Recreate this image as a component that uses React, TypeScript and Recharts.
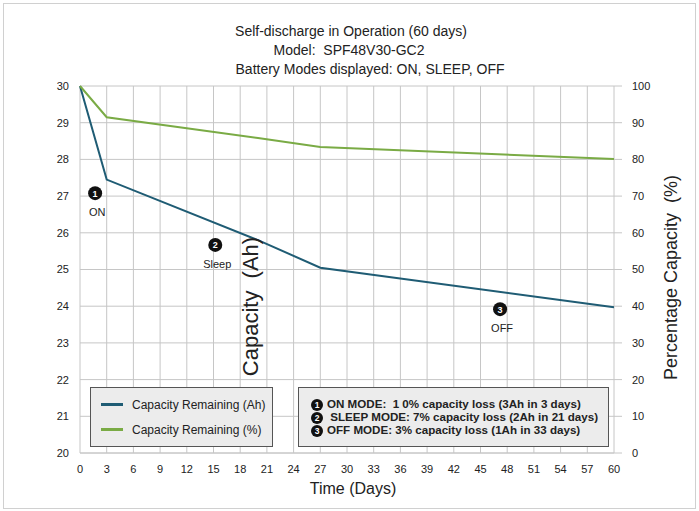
import React from 'react';
import {
  LineChart,
  Line,
  XAxis,
  YAxis,
  CartesianGrid,
  Legend,
  ReferenceDot,
} from 'recharts';

// sampled days and the two readings (Ah on the left axis, % on the right)
const days = [0, 3, 20, 27, 60];
const capacityAh = [30, 27.45, 25.8, 25.05, 23.97];
const capacityPct = [100, 91.5, 85.8, 83.4, 80.1];

const dayTicks = [0, 3, 6, 9, 12, 15, 18, 21, 24, 27, 30, 33, 36, 39, 42, 45, 48, 51, 54, 57, 60];
const ahTicks = [20, 21, 22, 23, 24, 25, 26, 27, 28, 29, 30];
const pctTicks = [0, 10, 20, 30, 40, 50, 60, 70, 80, 90, 100];

const titleLines = [
  'Self-discharge in Operation (60 days)',
  'Model:  SPF48V30-GC2',
  'Battery Modes displayed: ON, SLEEP, OFF',
];

// numbered mode markers, placed in data coordinates
const markerNums = ['1', '2', '3'];
const markerLabels = ['ON', 'Sleep', 'OFF'];
const markerDays = [1.7, 15.2, 47.2];
const markerAh = [27.08, 25.67, 23.92];

const modeNotes = [
  'ON MODE:  1 0% capacity loss (3Ah in 3 days)',
  ' SLEEP MODE: 7% capacity loss (2Ah in 21 days)',
  'OFF MODE: 3% capacity loss (1Ah in 33 days)',
];

const seriesOrder = ['ah', 'pct'];

const data = days.map((d, i) => ({ day: d, ah: capacityAh[i], pct: capacityPct[i] }));

const FONT = '"Liberation Sans", Arial, sans-serif';
const BLUE = '#1f5c74';
const GREEN = '#7aab45';
const GRID = '#c6c6c6';

const tickStyle = { fontSize: 11, fill: '#222', fontFamily: FONT };

const ModeMarker = (props: any) => {
  const { cx, cy, num, label } = props;
  return (
    <g>
      <circle cx={cx} cy={cy} r={7} fill="#111" />
      <text x={cx} y={cy + 3.5} textAnchor="middle" fontSize={9} fontWeight="bold" fill="#fff" fontFamily={FONT}>
        {num}
      </text>
      <text x={cx + 2} y={cy + 23} textAnchor="middle" fontSize={11} fill="#222" fontFamily={FONT}>
        {label}
      </text>
    </g>
  );
};

const LegendBox = (props: any) => {
  const items = [...(props.payload || [])].sort(
    (a: any, b: any) => seriesOrder.indexOf(a.dataKey) - seriesOrder.indexOf(b.dataKey)
  );
  return (
    <div
      style={{
        width: 183,
        height: 60,
        boxSizing: 'border-box',
        border: '1px solid #555',
        background: '#ececec',
        padding: '4px 0 0 10px',
        fontFamily: FONT,
        fontSize: 12,
        color: '#222',
      }}
    >
      {items.map((p: any) => (
        <div key={p.value} style={{ display: 'flex', alignItems: 'center', height: 25 }}>
          <span style={{ display: 'inline-block', width: 22, height: 3, background: p.color, marginRight: 9 }} />
          <span>{p.value}</span>
        </div>
      ))}
    </div>
  );
};

const Circled = ({ n }: { n: string }) => (
  <span
    style={{
      display: 'inline-block',
      width: 12,
      height: 12,
      lineHeight: '12px',
      borderRadius: '50%',
      background: '#111',
      color: '#fff',
      fontSize: 8.5,
      textAlign: 'center',
      marginRight: 4,
      verticalAlign: 'middle',
    }}
  >
    {n}
  </span>
);

export default function App() {
  return (
    <div style={{ position: 'absolute', left: 0, top: 0, width: 699, height: 511, background: '#fff' }}>
      <div
        style={{
          position: 'absolute',
          left: 3,
          top: 3,
          width: 691,
          height: 504,
          border: '1px solid #d0d0d0',
        }}
      />
      <LineChart
        width={699}
        height={511}
        data={data}
        margin={{ top: 86, right: 0, bottom: 0, left: 0 }}
      >
        <CartesianGrid stroke={GRID} yAxisId="ah" />
        <XAxis
          dataKey="day"
          type="number"
          domain={[0, 60]}
          ticks={dayTicks}
          interval={0}
          height={58}
          tickLine={false}
          tickSize={0}
          tickMargin={12}
          axisLine={{ stroke: GRID }}
          tick={tickStyle}
          label={(p: any) => (
            <text
              x={p.viewBox.x + p.viewBox.width / 2 + 6}
              y={p.viewBox.y + 41}
              textAnchor="middle"
              fontSize={16}
              fill="#222"
              fontFamily={FONT}
            >
              Time (Days)
            </text>
          )}
        />
        <YAxis
          yAxisId="ah"
          orientation="left"
          domain={[20, 30]}
          ticks={ahTicks}
          interval={0}
          width={80}
          tickLine={false}
          tickSize={0}
          tickMargin={11}
          axisLine={false}
          tick={tickStyle}
          label={(p: any) => {
            const x = p.viewBox.x + 258;
            const y = p.viewBox.y + p.viewBox.height / 2 + 37;
            return (
              <text
                x={x}
                y={y}
                transform={`rotate(-90 ${x} ${y})`}
                textAnchor="middle"
                fontSize={22}
                fill="#222"
                fontFamily={FONT}
                style={{ whiteSpace: 'pre' }}
              >
                Capacity  (Ah)
              </text>
            );
          }}
        />
        <YAxis
          yAxisId="pct"
          orientation="right"
          domain={[0, 100]}
          ticks={pctTicks}
          interval={0}
          width={85}
          tickSize={8}
          tickMargin={10}
          tickLine={{ stroke: GRID }}
          axisLine={false}
          tick={tickStyle}
          label={(p: any) => {
            const x = p.viewBox.x + 63;
            const y = p.viewBox.y + p.viewBox.height / 2 + 8;
            return (
              <text
                x={x}
                y={y}
                transform={`rotate(-90 ${x} ${y})`}
                textAnchor="middle"
                fontSize={18}
                fill="#222"
                fontFamily={FONT}
                style={{ whiteSpace: 'pre' }}
              >
                Percentage Capacity  (%)
              </text>
            );
          }}
        />
        <Legend
          layout="vertical"
          align="center"
          verticalAlign="middle"
          wrapperStyle={{ left: 90, top: 387, width: 183, height: 60 }}
          content={<LegendBox />}
        />
        <Line
          yAxisId="ah"
          type="linear"
          dataKey="ah"
          name="Capacity Remaining (Ah)"
          stroke={BLUE}
          strokeWidth={2}
          dot={false}
          isAnimationActive={false}
        />
        <Line
          yAxisId="pct"
          type="linear"
          dataKey="pct"
          name="Capacity Remaining (%)"
          stroke={GREEN}
          strokeWidth={2}
          dot={false}
          isAnimationActive={false}
        />
        {markerNums.map((n, i) => (
          <ReferenceDot
            key={n}
            yAxisId="ah"
            x={markerDays[i]}
            y={markerAh[i]}
            shape={(p: any) => <ModeMarker cx={p.cx} cy={p.cy} num={n} label={markerLabels[i]} />}
          />
        ))}
      </LineChart>
      <svg
        width={699}
        height={100}
        style={{ position: 'absolute', left: 0, top: 0, pointerEvents: 'none' }}
      >
        <text x={351} y={36} textAnchor="middle" fontSize={14} fill="#222" fontFamily={FONT}>
          {titleLines[0]}
        </text>
        <text x={349} y={55} textAnchor="middle" fontSize={14} fill="#222" fontFamily={FONT} style={{ whiteSpace: 'pre' }}>
          {titleLines[1]}
        </text>
        <text x={370} y={74} textAnchor="middle" fontSize={14} fill="#222" fontFamily={FONT}>
          {titleLines[2]}
        </text>
      </svg>
      <div
        style={{
          position: 'absolute',
          left: 298,
          top: 387,
          width: 311,
          height: 60,
          boxSizing: 'border-box',
          border: '1px solid #555',
          background: '#ececec',
          padding: '9px 0 0 12px',
          fontFamily: FONT,
          fontSize: 11.6,
          fontWeight: 'bold',
          color: '#222',
          whiteSpace: 'pre',
        }}
      >
        {modeNotes.map((t, i) => (
          <div key={i} style={{ height: 13, lineHeight: '13px' }}>
            <Circled n={markerNums[i]} />
            {t}
          </div>
        ))}
      </div>
    </div>
  );
}
